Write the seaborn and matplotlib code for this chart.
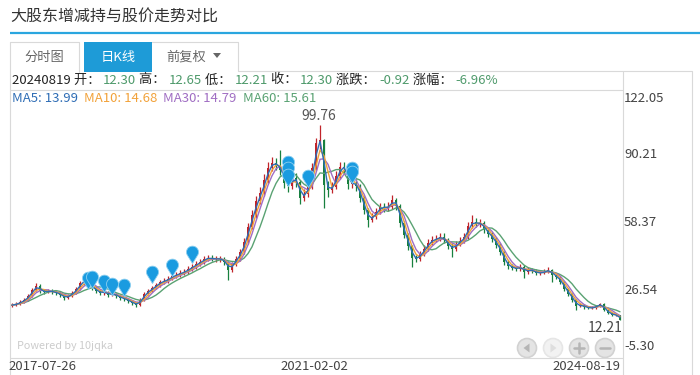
import numpy as np
import pandas as pd
import matplotlib
matplotlib.use("Agg")
import matplotlib.pyplot as plt
import seaborn as sns
from matplotlib.path import Path
from matplotlib.patches import Rectangle, Circle, Polygon

# ---------------- data (sampled candles, 2017-07-26 .. 2024-08-19) ----------------
first_open = 18.5
close = [18.9, 19.4, 20.3, 21.2, 23.0, 25.7, 27.5, 25.2, 24.8, 25.2,
         24.8, 24.3, 23.4, 22.1, 23.0, 24.3, 26.1, 28.8, 30.2, 27.9,
         26.6, 25.2, 24.3, 24.8, 23.4, 23.9, 23.0, 22.1, 21.6, 20.7,
         19.8, 18.9, 21.2, 23.9, 25.2, 26.6, 27.9, 29.3, 29.7, 30.6,
         32.0, 32.4, 33.3, 33.8, 35.1, 36.0, 37.4, 38.2, 39.6, 40.0,
         39.6, 39.6, 39.6, 38.2, 34.7, 37.4, 39.6, 42.7, 47.2, 54.0,
         59.3, 65.6, 69.2, 75.1, 80.4, 82.7, 81.8, 79.6, 73.7, 72.4,
         76.0, 74.2, 67.0, 68.8, 71.9, 80.4, 91.7, 93.0, 72.8, 70.6,
         71.9, 76.9, 80.9, 80.4, 73.3, 73.7, 72.4, 67.0, 61.6, 57.1,
         58.5, 60.7, 63.0, 62.5, 63.0, 66.1, 63.4, 55.8, 50.4, 45.4,
         40.0, 39.6, 41.8, 44.1, 46.8, 48.1, 48.6, 49.5, 48.1, 45.4,
         44.1, 46.3, 47.7, 49.5, 54.4, 56.2, 55.3, 55.8, 52.6, 50.8,
         48.6, 45.9, 42.7, 38.2, 36.4, 35.6, 35.1, 36.0, 33.8, 34.7,
         34.2, 33.3, 33.3, 33.8, 34.7, 32.4, 31.5, 29.3, 26.1, 23.9,
         21.2, 18.5, 18.9, 18.0, 17.6, 17.6, 18.5, 19.4, 16.7, 15.4,
         14.4, 14.4, 12.3]
high = [19.6, 20.1, 21.0, 22.0, 23.8, 26.6, 28.6, 28.2, 26.0, 26.1,
        25.9, 25.5, 25.0, 23.9, 23.8, 25.1, 27.0, 29.8, 31.4, 30.9,
        28.6, 27.3, 25.9, 25.8, 25.4, 24.8, 24.5, 23.6, 22.8, 22.2,
        21.2, 20.3, 21.9, 24.7, 26.1, 27.6, 28.9, 30.3, 30.8, 31.7,
        33.2, 33.6, 34.5, 35.0, 36.4, 37.3, 38.8, 39.6, 41.0, 41.5,
        41.2, 41.0, 41.1, 40.6, 38.8, 38.4, 40.8, 44.0, 48.8, 55.8,
        61.5, 68.0, 71.8, 77.8, 83.0, 85.5, 85.0, 88.5, 81.0, 75.5,
        78.2, 78.0, 75.0, 70.8, 74.0, 82.8, 94.0, 99.76, 93.5, 74.5,
        74.0, 79.0, 83.1, 83.0, 81.0, 76.0, 75.5, 73.0, 68.0, 62.5,
        60.3, 62.5, 64.8, 64.6, 65.0, 68.3, 67.0, 64.0, 56.5, 51.2,
        46.0, 41.5, 43.2, 45.6, 48.3, 49.8, 50.3, 51.2, 51.0, 49.0,
        46.5, 47.8, 49.3, 51.2, 56.2, 59.3, 58.0, 57.6, 56.6, 53.5,
        51.6, 49.3, 46.6, 43.3, 39.0, 37.3, 36.5, 37.2, 36.8, 35.8,
        35.6, 35.0, 34.4, 35.0, 35.8, 35.2, 33.2, 32.0, 29.8, 26.6,
        24.4, 21.6, 19.6, 19.4, 18.5, 18.3, 19.1, 20.0, 19.7, 17.0,
        15.8, 14.9, 14.6]
low = [18.0, 18.5, 19.0, 19.8, 20.7, 22.5, 25.0, 24.4, 24.0, 24.2,
       24.0, 23.5, 22.6, 21.0, 21.4, 22.5, 23.7, 25.6, 28.0, 27.0,
       25.6, 24.3, 23.4, 23.6, 22.6, 22.8, 22.2, 21.3, 20.8, 20.0,
       19.1, 18.1, 18.5, 20.8, 23.3, 24.6, 26.0, 27.2, 28.5, 29.0,
       30.0, 31.2, 31.6, 32.4, 33.0, 34.3, 35.2, 36.6, 37.5, 38.7,
       38.5, 38.3, 38.2, 36.9, 30.2, 33.8, 36.6, 38.8, 41.8, 46.2,
       52.8, 58.0, 64.0, 67.8, 73.6, 78.8, 79.5, 77.0, 71.5, 69.8,
       71.0, 71.8, 64.0, 65.5, 67.5, 71.0, 79.5, 89.0, 62.5, 67.5,
       69.0, 70.8, 75.5, 78.0, 71.0, 71.5, 70.0, 65.0, 59.5, 54.0,
       56.0, 57.5, 59.8, 60.8, 61.0, 62.0, 61.5, 54.0, 48.8, 43.8,
       36.0, 38.0, 38.8, 41.0, 43.2, 45.8, 47.0, 47.6, 46.8, 44.0,
       40.6, 43.2, 45.5, 46.8, 48.6, 53.5, 54.0, 54.0, 51.2, 49.3,
       47.2, 44.5, 41.3, 37.0, 35.2, 34.5, 34.0, 34.3, 31.1, 33.0,
       33.3, 32.4, 32.3, 32.6, 33.2, 29.2, 30.5, 28.4, 25.2, 23.0,
       20.4, 16.7, 17.8, 17.3, 17.0, 17.0, 17.1, 18.0, 16.2, 15.0,
       14.0, 13.9, 12.21]

ma_names = ["MA5", "MA10", "MA30", "MA60"]
ma_values = ["13.99", "14.68", "14.79", "15.61"]
ma_windows = [2, 3, 4, 7]          # equivalent windows on the sampled candles
ma_colors = ["#2f6db5", "#f2a23a", "#a06ec3", "#5aa273"]

pin_idx = [19, 20, 23, 25, 28, 35, 40, 45, 69, 69, 69, 74, 85, 85]
pin_price = [26.1, 26.6, 24.8, 23.4, 23.0, 28.8, 31.9, 37.8,
             78.2, 75.5, 72.4, 71.9, 75.5, 73.7]

y_labels = ["122.05", "90.21", "58.37", "26.54", "-5.30"]
y_min, y_max = -5.30, 122.05
x_labels = ["2017-07-26", "2021-02-02", "2024-08-19"]
peak_label, low_label = "99.76", "12.21"

title = "大股东增减持与股价走势对比"
tabs = ["分时图", "日K线", "前复权"]
info_date = "20240819"
info_items = [("开", "12.30"), ("高", "12.65"), ("低", "12.21"), ("收", "12.30"),
              ("涨跌", "-0.92"), ("涨幅", "-6.96%")]

# ---------------- figure ----------------
sns.set_style("white")
plt.rcParams["font.family"] = ["Noto Sans CJK SC", "DejaVu Sans"]

W, H = 700, 375
fig = plt.figure(figsize=(W / 100, H / 100), dpi=100)
bg = fig.add_axes([0, 0, 1, 1])
bg.set_xlim(0, W)
bg.set_ylim(H, 0)
bg.axis("off")
bg.set_zorder(0)

LINE = "#d9d9d9"
GREEN_TXT = "#4e9a6b"

# title & header line
bg.text(10, 17, title, fontsize=11.5, color="#333333", va="center", ha="left")
bg.plot([10, 700], [33, 33], color="#2aa6df", lw=1.6, solid_capstyle="butt")

# tabs
bg.plot([10, 10, 79, 79], [375, 42, 42, 72], color=LINE, lw=0.8)
bg.add_patch(Rectangle((84, 42), 68, 30, facecolor="#1e9bd7", edgecolor="none"))
bg.plot([152, 238, 238], [42, 42, 71], color=LINE, lw=0.8)
bg.plot([238, 692, 692], [71, 71, 375], color=LINE, lw=0.8)
bg.text(44, 57, tabs[0], fontsize=9.5, color="#666666", va="center", ha="center")
bg.text(118, 57, tabs[1], fontsize=9.5, color="white", va="center", ha="center")
bg.text(186, 57, tabs[2], fontsize=9.5, color="#666666", va="center", ha="center")
bg.add_patch(Polygon([(213, 53), (221, 53), (217, 58)], closed=True,
                     facecolor="#666666", edgecolor="none"))

# info box lines
bg.plot([10, 623], [90, 90], color=LINE, lw=0.8)
bg.plot([623, 623], [71, 375], color=LINE, lw=0.8)
bg.plot([10, 623], [358, 358], color=LINE, lw=0.8)


def chain(pieces, x0, y0, fs):
    t = bg.text(x0, y0, pieces[0][0], color=pieces[0][1], fontsize=fs,
                va="center", ha="left")
    for s, col in pieces[1:]:
        t = bg.annotate(s, xy=(1, 0.5), xycoords=t, va="center", ha="left",
                        color=col, fontsize=fs)


pieces = [(info_date + " ", "#222222")]
for k, (lab, val) in enumerate(info_items):
    pieces.append(((" " if k else "") + lab + "： ", "#222222"))
    pieces.append((val, GREEN_TXT))
chain(pieces, 12, 80, 9.5)

ma_pieces = []
for k, (n, v, c) in enumerate(zip(ma_names, ma_values, ma_colors)):
    ma_pieces.append((("  " if k else "") + f"{n}: {v}", c))
chain(ma_pieces, 12, 99, 9.5)

# y labels (right) and x labels (bottom)
for lab, yp in zip(y_labels, [98, 155, 223, 290, 347]):
    bg.text(624, yp, lab, fontsize=9.5, color="#444444", va="center", ha="left")
for lab, xp in zip(x_labels, [8, 280, 552]):
    bg.text(xp, 366, lab, fontsize=9.5, color="#444444", va="center", ha="left")

bg.text(17, 346, "Powered by 10jqka", fontsize=7.8, color="#cccccc",
        va="center", ha="left")

# navigation buttons
for k, cx in enumerate([527, 553, 579, 605]):
    light = (k == 1)
    bg.add_patch(Circle((cx, 348), 9.5, facecolor="#f2f2f2" if light else "#e4e4e4",
                        edgecolor="#e6e6e6" if light else "#d2d2d2", lw=1.2))
    gc = "#dedede" if light else "#b5b5b5"
    if k == 0:
        bg.add_patch(Polygon([(cx + 2.5, 343.5), (cx + 2.5, 352.5), (cx - 3.5, 348)],
                             facecolor=gc, edgecolor="none"))
    elif k == 1:
        bg.add_patch(Polygon([(cx - 2.5, 343.5), (cx - 2.5, 352.5), (cx + 3.5, 348)],
                             facecolor=gc, edgecolor="none"))
    elif k == 2:
        bg.plot([cx - 5, cx + 5], [348, 348], color=gc, lw=1.8)
        bg.plot([cx, cx], [343, 353], color=gc, lw=1.8)
    else:
        bg.plot([cx - 5, cx + 5], [348, 348], color=gc, lw=1.8)

# ---------------- main price axes ----------------
N = len(close)
ax = fig.add_axes([10 / W, 1 - 359 / H, 612 / W, 284 / H])
ax.set_zorder(1)
ax.patch.set_alpha(0)
ax.set_xlim(-0.5, N - 0.5)
ax.set_ylim(y_min, y_max)
ax.axis("off")

df = pd.DataFrame({"close": close, "high": high, "low": low})
df["open"] = [first_open] + close[:-1]
df["idx"] = np.arange(N)
up = df["close"] >= df["open"]
colors = np.where(up, "#c0242a", "#18803f")

ax.vlines(df["idx"], df["low"], df["high"], colors=colors, lw=0.9, zorder=2)
body_h = np.maximum((df["close"] - df["open"]).abs(), 0.35)
ax.bar(df["idx"], body_h, bottom=np.minimum(df["open"], df["close"]),
       width=0.72, color=colors, edgecolor="none", zorder=2)

for name, w, c in zip(ma_names[::-1], ma_windows[::-1], ma_colors[::-1]):
    df[name] = df["close"].rolling(w, min_periods=1).mean()
    sns.lineplot(data=df, x="idx", y=name, ax=ax, color=c, lw=1.0,
                 legend=False, zorder=3)
ax.axis("off")
ax.set_xlim(-0.5, N - 0.5)
ax.set_ylim(y_min, y_max)

# pin markers (tip at the point)
r, d = 1.0, 1.9
phi = np.arccos(r / d)
ang = np.linspace(-np.pi / 2 + phi, 3 * np.pi / 2 - phi, 60)
verts = [(0, 0)] + [(r * np.cos(a), d + r * np.sin(a)) for a in ang] + [(0, 0)]
codes = [Path.MOVETO] + [Path.LINETO] * (len(verts) - 2) + [Path.CLOSEPOLY]
pin = Path(verts, codes)
ax.plot(pin_idx, pin_price, linestyle="none", marker=pin, markersize=25,
        markerfacecolor="#1a9be0", markeredgecolor="#8ccff0", markeredgewidth=0.6,
        zorder=5)

# peak / low labels
pk = int(np.argmax(high))
lw_i = int(np.argmin(low))
ax.annotate(peak_label, xy=(pk, high[pk]), xytext=(-1, 1), textcoords="offset points",
            ha="center", va="bottom", fontsize=10, color="#555555")
ax.annotate(low_label, xy=(lw_i, low[lw_i]), xytext=(2, -1), textcoords="offset points",
            ha="right", va="top", fontsize=10, color="#444444")

fig.savefig("out.png", dpi=100)
